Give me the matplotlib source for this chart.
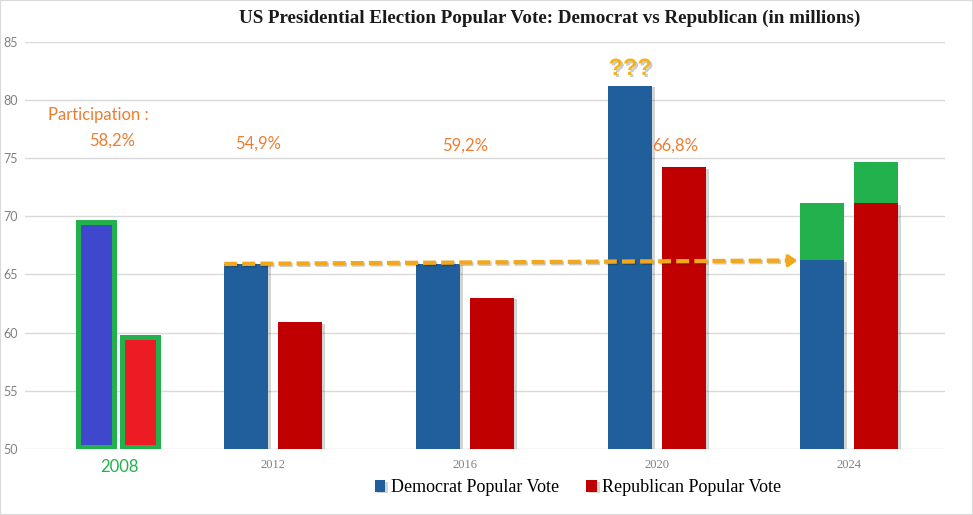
"""
plot.py
US presidential election popular vote, Democrat vs Republican (millions).
Saves out.png (973x515).
"""

import matplotlib.pyplot as plt
from matplotlib.patches import Rectangle
import matplotlib.patheffects as pe

# -----------------------------
# Data
# -----------------------------
years = ["2008", "2012", "2016", "2020", "2024"]
x_pos = [0.2, 1, 2, 3, 4]            # 2008 was squeezed in on the left
dem_votes = [69.5, 65.9, 65.9, 81.2, 66.2]
rep_votes = [59.6, 60.9, 63.0, 74.2, 71.1]
dem_extra_2024 = 71.1                # green top on the Democrat bar
rep_extra_2024 = 74.7                # green top on the Republican bar
participation = ["58,2%", "54,9%", "59,2%", "66,8%"]
yticks = [50, 55, 60, 65, 70, 75, 80, 85]

# -----------------------------
# Style
# -----------------------------
DEM = "#205E9C"
REP = "#C00000"
DEM_08 = "#3F48CC"
REP_08 = "#ED1C24"
GREEN = "#22B14C"
ORANGE = "#ED7D31"
GOLD = "#F2A81D"
GRID = "#D9D9D9"
GREY = "#808080"

W, H, DPI = 973, 515, 100
fig = plt.figure(figsize=(W / DPI, H / DPI), dpi=DPI)
ax = fig.add_axes([25 / W, 1 - 449 / H, 920 / W, (449 - 41.7) / H])
ax.set_xlim(-0.292, 4.5)
ax.set_ylim(50, 85)

shadow = [pe.SimplePatchShadow(offset=(2, -1), shadow_rgbFace="#555555", alpha=0.25), pe.Normal()]

# -----------------------------
# Bars 2012-2024
# -----------------------------
bw = 0.229
off = 0.14
dem_bars = ax.bar([x - off for x in x_pos[1:]], [v - 50 for v in dem_votes[1:]], bw,
                  bottom=50, color=DEM, label="Democrat Popular Vote", zorder=3)
rep_bars = ax.bar([x + off for x in x_pos[1:]], [v - 50 for v in rep_votes[1:]], bw,
                  bottom=50, color=REP, label="Republican Popular Vote", zorder=3)
for b in list(dem_bars) + list(rep_bars):
    b.set_path_effects(shadow)

# green extensions on 2024
ax.bar(x_pos[4] - off, dem_extra_2024 - dem_votes[4], bw, bottom=dem_votes[4], color=GREEN, zorder=3)
ax.bar(x_pos[4] + off, rep_extra_2024 - rep_votes[4], bw, bottom=rep_votes[4], color=GREEN, zorder=3)

# -----------------------------
# 2008 bars with green frame
# -----------------------------
frame_lw = 3.6                        # points
half = frame_lw / 2 / 72 * DPI / (408 / 35)   # half border in data units
bw08 = 0.185
ax.bar(x_pos[0] - 0.122, dem_votes[0] - 50 - half, bw08, bottom=50 + half,
       color=DEM_08, edgecolor=GREEN, linewidth=frame_lw, zorder=3)
ax.bar(x_pos[0] + 0.107, rep_votes[0] - 50 - half, bw08, bottom=50 + half,
       color=REP_08, edgecolor=GREEN, linewidth=frame_lw, zorder=3)

# -----------------------------
# Axes styling
# -----------------------------
for s in ax.spines.values():
    s.set_visible(False)
ax.set_yticks(yticks)
ax.yaxis.grid(True, color=GRID, linewidth=1)
ax.set_axisbelow(True)
ax.tick_params(axis="both", length=0)
ax.tick_params(axis="y", pad=15.8, labelsize=9, labelcolor=GREY)
ax.tick_params(axis="x", pad=7)
for lab in ax.get_yticklabels():
    lab.set_fontfamily("Lato")
    lab.set_horizontalalignment("left")

ax.set_xticks(x_pos)
ax.set_xticklabels(years)
for i, lab in enumerate(ax.get_xticklabels()):
    if i == 0:
        lab.set_fontfamily("Lato")
        lab.set_fontsize(12)
        lab.set_color(GREEN)
    else:
        lab.set_fontfamily("Liberation Serif")
        lab.set_fontsize(9)
        lab.set_color(GREY)

# -----------------------------
# Annotations
# -----------------------------
ax.text(-0.172, 78.67, "Participation :", color=ORANGE, fontsize=12,
        family="Lato", ha="left", va="center")
part_x = [0.16, 0.92, 2.0, 3.096]
part_y = [76.5, 76.27, 76.03, 76.03]
for px, py, t in zip(part_x, part_y, participation):
    ax.text(px, py, t, color=ORANGE, fontsize=12, family="Lato", ha="center", va="center")

ax.text(x_pos[3] - off, dem_votes[3] + 1.5, "???", color="#F3B41B", fontsize=17,
        fontweight="bold", family="Liberation Sans", ha="center", va="center",
        path_effects=[pe.SimplePatchShadow(offset=(1.5, -1.5), shadow_rgbFace="#999999", alpha=0.5),
                      pe.Normal()])

# dashed arrow from 2012 Democrat top to 2024 Democrat top
x0 = x_pos[1] - off - bw / 2
x1 = x_pos[4] - off - bw / 2
y0, y1 = dem_votes[1], dem_votes[4]
tip = 0.07
ax.plot([x0, x1 - tip], [y0, y0 + (y1 - y0) * (x1 - tip - x0) / (x1 - x0)],
        color=GOLD, lw=3.1, dashes=(3.0, 1.2), zorder=5,
        path_effects=[pe.SimpleLineShadow(offset=(1, -1), alpha=0.2), pe.Normal()])
ax.annotate("", xy=(x1, y1), xytext=(x1 - tip - 0.01, y1 - 0.02),
            arrowprops=dict(arrowstyle="-|>,head_length=0.5,head_width=0.35",
                            color=GOLD, lw=2.5), zorder=5)

# -----------------------------
# Title, legend, frame
# -----------------------------
fig.text(549.5 / W, 1 - 18 / H,
         "US Presidential Election Popular Vote: Democrat vs Republican (in millions)",
         ha="center", va="center", fontsize=13.7, fontweight="bold",
         family="Liberation Serif", color="#1a1a1a")

fig.legend(handles=[dem_bars, rep_bars], loc="center",
           bbox_to_anchor=(578 / W, 1 - 488 / H), ncol=2, frameon=False,
           handlelength=0.6, handleheight=0.6, handletextpad=0.3,
           columnspacing=1.5, prop={"family": "Liberation Serif", "size": 13})

fig.patches.append(Rectangle((0, 0), 1, 1, transform=fig.transFigure,
                             fill=False, edgecolor=GRID, linewidth=1.5))

fig.savefig("out.png", dpi=DPI)
